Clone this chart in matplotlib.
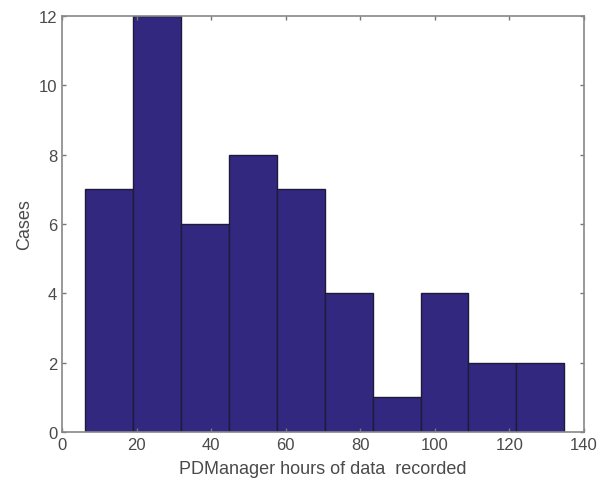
import numpy as np
import matplotlib
matplotlib.use("Agg")
import matplotlib.pyplot as plt

plt.rcParams['font.family'] = ['Liberation Sans', 'DejaVu Sans']

# Histogram of recorded hours: bin edges and case counts
bin_start = 6.2
bin_width = 12.85
counts = [7, 12, 6, 8, 7, 4, 1, 4, 2, 2]
x_ticks = [0, 20, 40, 60, 80, 100, 120, 140]
y_ticks = [0, 2, 4, 6, 8, 10, 12]

edges = bin_start + bin_width * np.arange(len(counts) + 1)

fig = plt.figure(figsize=(6.08, 4.81), dpi=100)
ax = fig.add_axes([62 / 608, 1 - 433 / 481, (584 - 62) / 608, (433 - 17) / 481])

ax.bar(edges[:-1], counts, width=np.diff(edges), align='edge',
       color='#33287f', edgecolor='#1e1a3a', linewidth=1.0)

ax.set_xlim(0, 140)
ax.set_ylim(0, 12)
ax.set_xticks(x_ticks)
ax.set_yticks(y_ticks)

for s in ax.spines.values():
    s.set_color('#888888')
    s.set_linewidth(1.2)
ax.tick_params(direction='in', top=True, right=True, length=3, width=1.0,
               colors='#777777', labelcolor='#4a4a4a', labelsize=12)

ax.set_xlabel('PDManager hours of data  recorded', fontsize=13, color='#4a4a4a', labelpad=6)
ax.set_ylabel('Cases', fontsize=13, color='#4a4a4a', labelpad=4)

fig.savefig('out.png', dpi=100)
